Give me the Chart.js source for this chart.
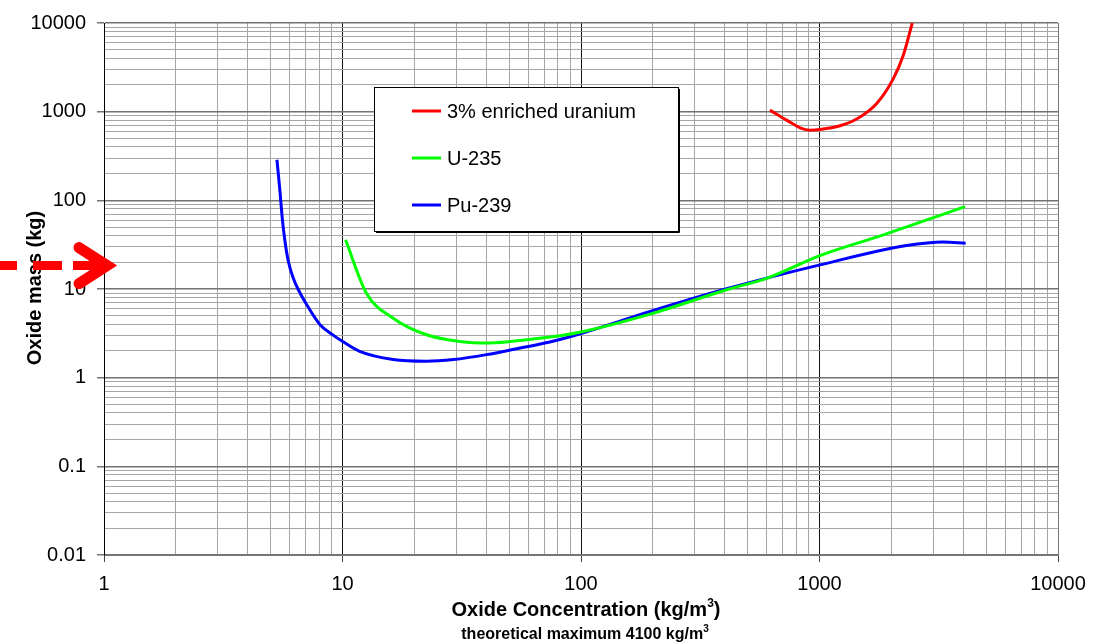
<!DOCTYPE html>
<html><head><meta charset="utf-8">
<script src="https://cdn.jsdelivr.net/npm/chart.js@4"></script>
<style>html,body{margin:0;padding:0;background:#fff}#wrap{width:1113px;height:644px;position:relative}</style>
</head><body><div id="wrap"><canvas id="c"></canvas></div>
<script>
// ---- data ----
const seriesLabels = ['3% enriched uranium', 'U-235', 'Pu-239'];
const enrichedX = [620, 728, 829, 912, 1005, 1220, 1432, 1737, 2040, 2246, 2449];
const enrichedY = [1040, 803, 658, 619, 630, 693, 825, 1237, 2360, 4325, 10000];
const u235X = [10.3, 12.6, 16.3, 22.5, 31.1, 41.5, 59.2, 81.7, 100, 195, 408, 600, 1005, 1853, 4075];
const u235Y = [35.8, 8.98, 4.69, 3.05, 2.56, 2.46, 2.68, 2.97, 3.27, 5.21, 9.8, 13.2, 23.8, 40.8, 84.9];
const pu239X = [5.31, 5.47, 5.59, 5.74, 5.93, 6.22, 6.53, 7.08, 8.05, 9.01, 10.1, 11.8, 16.3, 22.5, 29.2, 40.2, 55.5, 74, 100, 195, 408, 1005, 2317, 3302, 4100];
const pu239Y = [287, 125, 62.7, 34.3, 20.4, 13.2, 9.8, 6.64, 3.95, 3.10, 2.52, 1.98, 1.6, 1.53, 1.6, 1.82, 2.16, 2.52, 3.15, 5.58, 10.05, 18.7, 30.9, 34.0, 32.8];
const xTickLabels = ['1', '10', '100', '1000', '10000'];
const yTickLabels = ['0.01', '0.1', '1', '10', '100', '1000', '10000'];
const xTitleMain = 'Oxide Concentration (kg/m';
const xTitleSup = '3';
const xTitleEnd = ')';
const xSubMain = 'theoretical maximum 4100 kg/m';
const xSubSup = '3';
const yTitle = 'Oxide mass (kg)';
const arrowTarget = 18.4; // kg level the arrow points at

const FONT = '"Liberation Sans", Arial, Helvetica, sans-serif';
Chart.defaults.font.family = FONT;
Chart.defaults.color = '#000';

function logTickValues(labels) {
  const out = [];
  labels.forEach((l, i) => {
    const d = parseFloat(l);
    out.push(d);
    if (i < labels.length - 1) for (let k = 2; k <= 9; k++) out.push(+(d * k).toPrecision(6));
  });
  return out;
}
const isMajor = v => Math.abs(Math.log10(v) - Math.round(Math.log10(v))) < 1e-9;
const toPts = (xs, ys) => xs.map((v, i) => ({x: v, y: ys[i]}));

const overlay = {
  id: 'overlay',
  afterDatasetsDraw(chart) {
    const ctx = chart.ctx;
    ctx.save();
    const bx = 374, by = 87, bw = 304, bh = 144;
    ctx.fillStyle = '#fff';
    ctx.fillRect(bx, by, bw, bh);
    ctx.strokeStyle = '#000';
    ctx.lineWidth = 1;
    ctx.strokeRect(bx + 0.5, by + 0.5, bw, bh);
    ctx.beginPath();
    ctx.moveTo(bx + bw + 1.5, by + 2); ctx.lineTo(bx + bw + 1.5, by + bh + 1.5); ctx.lineTo(bx + 2, by + bh + 1.5);
    ctx.stroke();
    chart.data.datasets.forEach((ds, i) => {
      const yy = 111 + i * 47;
      ctx.strokeStyle = ds.borderColor;
      ctx.lineWidth = 3;
      ctx.beginPath(); ctx.moveTo(412, yy); ctx.lineTo(441, yy); ctx.stroke();
      ctx.fillStyle = '#000';
      ctx.font = '20px ' + FONT;
      ctx.textBaseline = 'middle';
      ctx.textAlign = 'left';
      ctx.fillText(ds.label, 447, yy + 1);
    });
    ctx.restore();
  },
  afterDraw(chart) {
    const ctx = chart.ctx;
    const yS = chart.scales.y;
    ctx.save();
    ctx.fillStyle = '#000';
    ctx.textBaseline = 'alphabetic';
    ctx.textAlign = 'left';
    function supText(main, sup, end, cx, base, size, supSize, rise) {
      ctx.font = 'bold ' + size + 'px ' + FONT;
      const w1 = ctx.measureText(main).width;
      const w3 = end ? ctx.measureText(end).width : 0;
      ctx.font = 'bold ' + supSize + 'px ' + FONT;
      const w2 = ctx.measureText(sup).width;
      let x0 = cx - (w1 + w2 + w3) / 2;
      ctx.font = 'bold ' + size + 'px ' + FONT;
      ctx.fillText(main, x0, base);
      ctx.font = 'bold ' + supSize + 'px ' + FONT;
      ctx.fillText(sup, x0 + w1, base - rise);
      if (end) { ctx.font = 'bold ' + size + 'px ' + FONT; ctx.fillText(end, x0 + w1 + w2, base); }
    }
    supText(xTitleMain, xTitleSup, xTitleEnd, 586, 616, 20, 12, 9);
    supText(xSubMain, xSubSup, '', 585, 639, 16, 10, 7);
    // y title
    ctx.save();
    ctx.translate(35, 288);
    ctx.rotate(-Math.PI / 2);
    ctx.font = 'bold 20px ' + FONT;
    ctx.textAlign = 'center';
    ctx.textBaseline = 'middle';
    ctx.fillText(yTitle, 0, 0);
    ctx.restore();
    // red dashed arrow
    const ay = yS.getPixelForValue(arrowTarget);
    ctx.strokeStyle = '#ff0000';
    ctx.lineWidth = 9;
    ctx.lineCap = 'butt';
    [[0, 17], [33, 62], [73, 104]].forEach(s => {
      ctx.beginPath(); ctx.moveTo(s[0], ay); ctx.lineTo(s[1], ay); ctx.stroke();
    });
    ctx.lineWidth = 11;
    ctx.lineCap = 'round';
    ctx.lineJoin = 'miter';
    ctx.beginPath();
    ctx.moveTo(79, ay - 18);
    ctx.lineTo(107, ay);
    ctx.lineTo(79, ay + 18);
    ctx.stroke();
    ctx.restore();
  }
};

const xVals = logTickValues(xTickLabels);
const yVals = logTickValues(yTickLabels);

new Chart(document.getElementById('c'), {
  type: 'line',
  data: {
    datasets: [
      {label: seriesLabels[0], data: toPts(enrichedX, enrichedY), borderColor: '#ff0000'},
      {label: seriesLabels[1], data: toPts(u235X, u235Y), borderColor: '#00ff00'},
      {label: seriesLabels[2], data: toPts(pu239X, pu239Y), borderColor: '#0000ff'}
    ].map(d => Object.assign(d, {borderWidth: 3, pointRadius: 0, fill: false, cubicInterpolationMode: 'monotone'}))
  },
  options: {
    responsive: true,
    maintainAspectRatio: false,
    animation: false,
    layout: {padding: {top: 21, right: 55, left: 0, bottom: 0}},
    plugins: {legend: {display: false}, tooltip: {enabled: false}},
    scales: {
      x: {
        type: 'logarithmic', min: 1, max: 10000,
        afterBuildTicks: s => { s.ticks = xVals.map(v => ({value: v})); },
        afterFit: s => { s.height = 89; },
        ticks: {
          autoSkip: false, maxRotation: 0, padding: 10,
          font: {size: 20},
          callback: v => { const i = xTickLabels.findIndex(l => Math.abs(parseFloat(l) - v) < 1e-9 * v); return i >= 0 ? xTickLabels[i] : ''; }
        },
        grid: {
          color: c => { const v = c.tick.value; if (!isMajor(v)) return '#a6a6a6'; return (v === 10000) ? '#777' : '#111'; },
          tickColor: c => isMajor(c.tick.value) ? '#444' : 'rgba(0,0,0,0)',
          tickLength: 7
        },
        border: {color: '#777', width: 1}
      },
      y: {
        type: 'logarithmic', min: 0.01, max: 10000,
        afterBuildTicks: s => { s.ticks = yVals.map(v => ({value: v})); },
        afterFit: s => { s.width = 104; },
        ticks: {
          autoSkip: false, padding: 11,
          font: {size: 20},
          callback: v => { const i = yTickLabels.findIndex(l => Math.abs(parseFloat(l) - v) < 1e-9 * v); return i >= 0 ? yTickLabels[i] : ''; }
        },
        grid: {
          color: c => isMajor(c.tick.value) ? '#737373' : '#a6a6a6',
          lineWidth: c => isMajor(c.tick.value) ? 1.5 : 1,
          tickColor: c => isMajor(c.tick.value) ? '#737373' : 'rgba(0,0,0,0)',
          tickLength: 7
        },
        border: {color: '#000', width: 1}
      }
    }
  },
  plugins: [overlay]
});
</script>
</body></html>
